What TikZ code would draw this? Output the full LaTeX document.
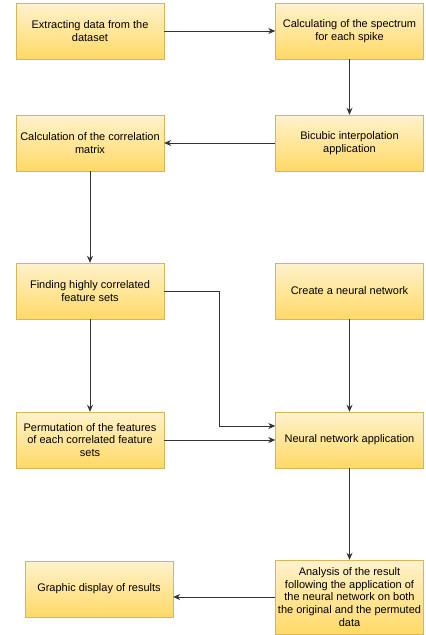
\documentclass[tikz,border=0pt]{standalone}
\usepackage{fontspec}
\setmainfont{Liberation Sans}
\usetikzlibrary{arrows.meta}

\definecolor{boxtop}{HTML}{FFF2CC}
\definecolor{boxbot}{HTML}{FFD966}
\definecolor{boxline}{HTML}{D6B656}

\tikzset{
  procbox/.style={draw=boxline, top color=boxtop, bottom color=boxbot,
    minimum width=148pt, minimum height=56pt, align=center,
    inner sep=1pt, font=\fontsize{11}{12.6}\selectfont},
  flow/.style={-{Stealth[length=7pt,width=6pt]}, line width=0.8pt, black!80}
}

\begin{document}
\begin{tikzpicture}[x=1pt, y=-1pt]

    \useasboundingbox (0,0) rectangle (426,635);

    \node[procbox] (extract) at (90, 31) {Extracting data from the\\dataset};
    \node[procbox] (spectrum) at (349.5, 31) {Calculating of the spectrum\\for each spike};
    \node[procbox] (bicubic) at (349.5, 143) {Bicubic interpolation\\application};
    \node[procbox] (corrmat) at (90, 143) {Calculation of the correlation\\matrix};
    \node[procbox] (findsets) at (90, 291) {Finding highly correlated\\feature sets};
    \node[procbox] (createnn) at (349.5, 291) {Create a neural network};
    \node[procbox] (permute) at (90, 440) {Permutation of the features\\of each correlated feature\\sets};
    \node[procbox] (applynn) at (349.5, 440) {Neural network application};
    \node[procbox, minimum height=74pt] (analysis) at (349.5, 597) {Analysis of the result\\following the application of\\the neural network on both\\the original and the permuted\\data};
    \node[procbox] (display) at (99, 589) {Graphic display of results};

    \coordinate (bend) at (219, 426);

    \draw [flow] (extract) -- (spectrum);
    \draw [flow] (spectrum) -- (bicubic);
    \draw [flow] (bicubic) -- (corrmat);
    \draw [flow] (corrmat) -- (findsets);
    \draw [flow] (findsets) -- (permute);
    \draw [flow] (findsets.east) -| (bend) -- (applynn.west |- bend);
    \draw [flow] (permute) -- (applynn);
    \draw [flow] (createnn) -- (applynn);
    \draw [flow] (applynn) -- (analysis);
    \draw [flow] (analysis.west) -- (display.east |- analysis.west);

\end{tikzpicture}
\end{document}
